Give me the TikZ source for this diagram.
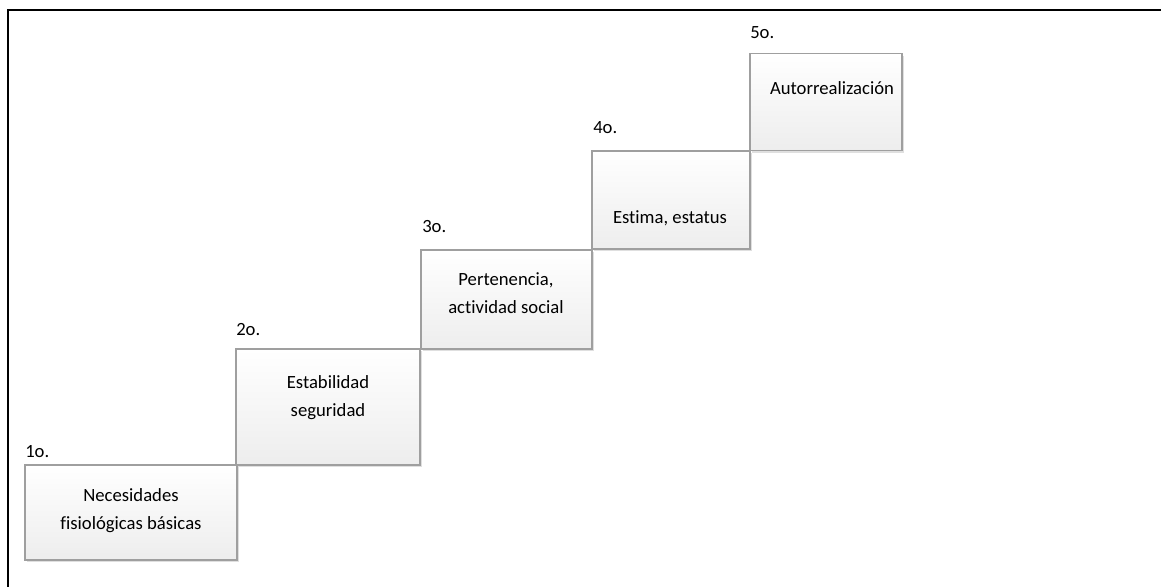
\documentclass[tikz,border=0pt]{standalone}
\usepackage{fontspec}
\setmainfont{Carlito}[Ligatures=NoCommon]
\usetikzlibrary{shadows}

\tikzset{
  caja/.style={draw=gray!75, line width=0.8pt, top color=white, bottom color=gray!14,
    drop shadow={shadow xshift=1.5pt, shadow yshift=-1.5pt, opacity=0.25, fill=gray}},
  texto/.style={align=center, font=\fontsize{14}{21}\selectfont, inner sep=0pt},
  etiqueta/.style={anchor=west, font=\fontsize{14}{21}\selectfont, inner sep=0pt}
}

\begin{document}
\begin{tikzpicture}[x=0.75pt, y=-0.75pt]
    \useasboundingbox (0,0) rectangle (1161,587);

    % Marco
    \draw[line width=1.5pt] (1161,10) -- (8,10) -- (8,587);

    % Escalones
    \node[caja, minimum width=212*0.75pt, minimum height=95*0.75pt] (b1) at (131,512.5) {};
    \node[caja, minimum width=184*0.75pt, minimum height=116*0.75pt] (b2) at (328,407) {};
    \node[caja, minimum width=171*0.75pt, minimum height=99*0.75pt] (b3) at (506.5,299.5) {};
    \node[caja, minimum width=158*0.75pt, minimum height=98*0.75pt] (b4) at (671,200) {};
    \node[caja, minimum width=152*0.75pt, minimum height=97*0.75pt] (b5) at (826,102) {};

    % Textos de los escalones
    \node[texto] (t1) at (131,511) {Necesidades\\fisiológicas básicas};
    \node[texto] (t2) at (328,398) {Estabilidad\\seguridad};
    \node[texto] (t3) at (506,293) {Pertenencia,\\actividad social};
    \node[texto] (t4) at (670,218) {Estima, estatus};
    \node[texto] (t5) at (832,88) {Autorrealización};

    % Orden
    \foreach \n/\x/\y in {1/25/452, 2/236/330, 3/422/227, 4/593/128, 5/750/33} {
      \node[etiqueta] (o\n) at (\x,\y) {\n o.};
    }

  \end{tikzpicture}
\end{document}
